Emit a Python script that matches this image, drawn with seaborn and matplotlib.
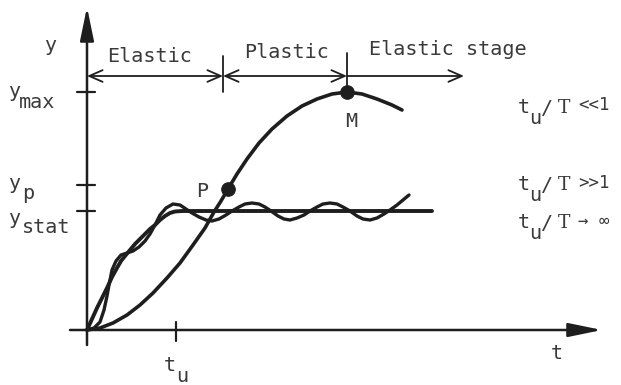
import matplotlib
matplotlib.use("Agg")
import matplotlib.pyplot as plt
import seaborn as sns
import pandas as pd

# ---------------- data (sketch units, origin at the axes crossing) ----------------
t_u = 89          # rise time mark on t axis
y_stat = 119      # static response level
y_p = 145         # plastic limit level
y_max = 238       # maximum response level

stage_names = ["Elastic", "Plastic", "Elastic stage"]
stage_bounds = [0, 136, 260, 377]

# response for t_u/T << 1
slow_t = [0, 13, 26, 40, 53, 66, 80, 93, 106, 118, 127, 134, 141, 150, 160, 172,
          185, 200, 215, 230, 245, 260, 275, 290, 305, 315]
slow_y = [0, 2, 7, 15, 25, 37, 52, 67, 85, 102, 118, 129, 141, 156, 171, 187,
          201, 214, 224, 231, 236, 238, 236, 231, 225, 220]

# response for t_u/T >> 1 (oscillating)
osc_t = [0, 7, 13, 17, 20, 22, 25, 29, 34, 40, 46, 52, 58, 63, 68, 73, 79, 86, 93,
         99, 105, 112, 119, 125, 132, 139, 145, 152, 158, 165, 172, 178, 184, 191,
         197, 203, 210, 217, 223, 230, 236, 243, 250, 256, 263, 270, 276, 283, 290,
         297, 303, 310, 316, 322]
osc_y = [0, 2, 8, 20, 34, 45, 60, 69, 75, 77, 79, 83, 89, 96, 105, 115, 122, 126, 125,
         121, 117, 113, 110, 109, 111, 115, 119, 123, 126, 127, 126, 123, 119, 114,
         111, 110, 112, 115, 119, 123, 126, 127, 126, 123, 119, 114, 111, 110, 112,
         116, 120, 125, 130, 135]

# response for t_u/T -> infinity (static)
stat_t = [0, 5, 10, 15, 20, 25, 30, 34, 38, 43, 48, 53, 58, 63, 68, 73, 78, 83, 88, 95, 345]
stat_y = [0, 11, 22, 32, 42, 53, 62, 69, 74, 80, 86, 91, 96, 101, 105, 110, 114, 117,
          118.5, 119, 119]

point_names = ["P", "M"]
point_t = [141, 260]
point_y = [141, 238]

case_labels = ["<<1", ">>1", "→ ∞"]

# ---------------- drawing ----------------
sns.set_theme(style="white")
LINE = "#1e1e1e"
TXT = "#3a3a3a"
FONT = "DejaVu Sans Mono"
FS = 14.5

fig = plt.figure(figsize=(6.21, 3.85), dpi=100)
ax = fig.add_axes([0, 0, 1, 1])
ax.set_xlim(-87, 534)
ax.set_ylim(-55, 330)
ax.axis("off")

# curves
sns.lineplot(x=slow_t, y=slow_y, sort=False, estimator=None, color=LINE, lw=2.6, ax=ax)
sns.lineplot(x=stat_t, y=stat_y, sort=False, estimator=None, color=LINE, lw=2.8, ax=ax)
sns.lineplot(x=osc_t, y=osc_y, sort=False, estimator=None, color=LINE, lw=2.4, ax=ax)
pts = pd.DataFrame({"t": point_t, "y": point_y})
sns.scatterplot(data=pts, x="t", y="y", s=95, color=LINE, edgecolor=LINE, zorder=5, ax=ax)

# axes with arrows
ax.annotate("", xy=(0, 323), xytext=(0, -15),
            arrowprops=dict(arrowstyle="-|>,head_length=1.7,head_width=0.35",
                            lw=1.8, color=LINE, shrinkA=0, shrinkB=0))
ax.annotate("", xy=(515, 0), xytext=(-17, 0),
            arrowprops=dict(arrowstyle="-|>,head_length=1.7,head_width=0.35",
                            lw=1.8, color=LINE, shrinkA=0, shrinkB=0))

# axis ticks
for lev in [y_max, y_p, y_stat]:
    ax.plot([-10, 8], [lev, lev], color=LINE, lw=1.6)
ax.plot([t_u, t_u], [8, -11], color=LINE, lw=1.6)

# stage line with arrows
stage_y = 254
aprops = dict(arrowstyle="<->,head_length=0.8,head_width=0.35", lw=1.3,
              color=LINE, shrinkA=0, shrinkB=0)
ax.annotate("", xy=(stage_bounds[0], stage_y), xytext=(stage_bounds[1], stage_y), arrowprops=aprops)
ax.annotate("", xy=(stage_bounds[1], stage_y), xytext=(stage_bounds[2], stage_y), arrowprops=aprops)
ax.annotate("", xy=(stage_bounds[2], stage_y), xytext=(stage_bounds[3], stage_y),
            arrowprops=dict(arrowstyle="<-,head_length=0.8,head_width=0.35", lw=1.3,
                            color=LINE, shrinkA=0, shrinkB=0))
ax.plot([stage_bounds[1], stage_bounds[1]], [238, 274], color=LINE, lw=1.3)
ax.plot([stage_bounds[2], stage_bounds[2]], [236, 277], color=LINE, lw=1.3)

tk = dict(color=TXT, family=FONT, fontsize=FS, va="baseline")
ax.text(63, 268, stage_names[0], ha="center", **tk)
ax.text(200, 272, stage_names[1], ha="center", **tk)
ax.text(361, 275, stage_names[2], ha="center", **tk)

# axis labels
ax.text(-37, 279, "y", ha="center", **tk)
ax.text(470, -29, "t", ha="center", **tk)
ax.text(83, -41, "t", ha="center", **tk)
ax.text(95, -52, "u", ha="center", **tk)

# level labels
ax.text(-73, 233, "y", ha="center", **tk)
ax.text(-68, 222, "max", ha="left", **tk)
ax.text(-73, 141, "y", ha="center", **tk)
ax.text(-59, 131, "p", ha="center", **tk)
ax.text(-73, 106, "y", ha="center", **tk)
ax.text(-65, 97, "stat", ha="left", **tk)

# point labels
ax.text(115, 133, point_names[0], ha="center", **tk)
ax.text(264, 203, point_names[1], ha="center", **tk)

# case labels on the right
for base, tail, tail_dy in [(217, case_labels[0], 3), (140, case_labels[1], 2), (102, case_labels[2], 2)]:
    ax.text(437, base, "t", ha="center", **tk)
    ax.text(448, base - 11, "u", ha="center", **tk)
    ax.text(460, base - 1, "/", ha="center", **tk)
    ax.text(477, base, "T", ha="center", color=TXT, family="DejaVu Serif",
            fontsize=FS - 1, va="baseline")
    ax.text(491, base + tail_dy, tail, ha="left", color=TXT, family=FONT,
            fontsize=FS - 2, va="baseline")

fig.savefig("out.png", dpi=100)
